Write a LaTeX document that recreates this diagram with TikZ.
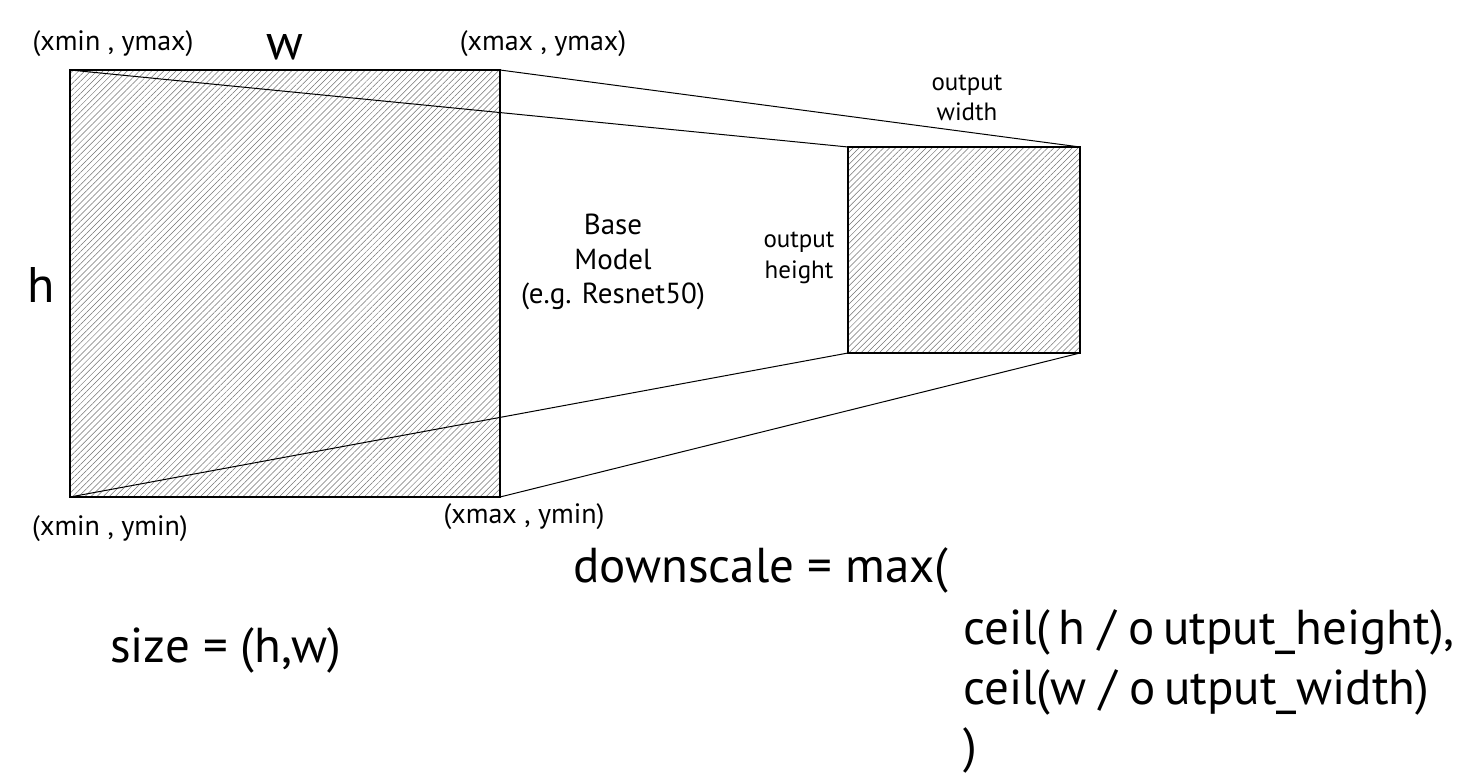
\documentclass[tikz,border=0pt]{standalone}
\usepackage{fontspec}
\setmainfont{PT Sans}
\usetikzlibrary{patterns.meta}
\begin{document}
\begin{tikzpicture}[x=1pt,y=-1pt,
  hatch/.style={draw=black,line width=1.2pt,pattern={Lines[angle=45,distance=4.3pt,line width=0.5pt]},pattern color=black!55},
  conn/.style={draw=black,line width=1pt},
  lbl/.style={font=\fontsize{28}{30}\selectfont,align=center,inner sep=0pt},
  big/.style={font=\fontsize{50}{48}\selectfont,inner sep=0pt},
  formula/.style={font=\fontsize{49}{60}\selectfont,inner sep=0pt,anchor=base west}]
\useasboundingbox (0,0) rectangle (1472,776);
\fill[white] (0,0) rectangle (1472,776);
% rectangles
\path[hatch] (70,70) rectangle (500,497);
\path[hatch] (848,147) rectangle (1080,353);
\coordinate (a1) at (70,70);
\coordinate (a2) at (500,70);
\coordinate (a3) at (70,497);
\coordinate (a4) at (500,497);
\coordinate (b1) at (848,147);
\coordinate (b2) at (1080,147);
\coordinate (b3) at (848,353);
\coordinate (b4) at (1080,353);
\draw[conn] (a1) -- (b1);
\draw[conn] (a2) -- (b2);
\draw[conn] (a3) -- (b3);
\draw[conn] (a4) -- (b4);
% labels
\node[lbl] (tl) at (113,44) {(xmin , ymax)};
\node[lbl] (tr) at (543,44) {(xmax , ymax)};
\node[lbl] (bl) at (110,529) {(xmin , ymin)};
\node[lbl] (br) at (524,517) {(xmax , ymin)};
\node[big] (w) at (285,47) {w};
\node[big] (h) at (41,285) {h};
\node[lbl,font=\fontsize{25}{30}\selectfont] (ow) at (967,98) {output\\width};
\node[lbl,font=\fontsize{25}{31}\selectfont] (oh) at (799,258) {output\\height};
\node[lbl,font=\fontsize{29}{34.5}\selectfont] (bm) at (613,262) {Base\\Model\\(e.g. Resnet50)};
\node[formula] (ds) at (573,582) {downscale = max(};
\node[formula] (sz) at (110,662) {size = (h,w)};
\node[formula] (c1) at (963,644) {ceil(\,h / o\,utput\_height),};
\node[formula] (c2) at (963,704) {ceil(w / o\,utput\_width)};
\node[formula] (c3) at (963,762) {)};
\end{tikzpicture}
\end{document}
